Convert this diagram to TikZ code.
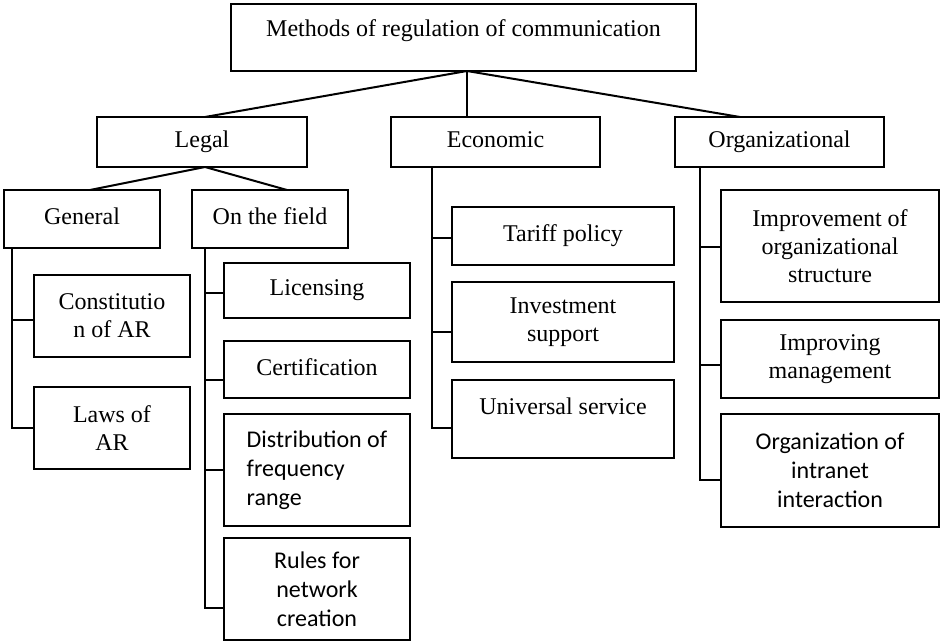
\documentclass[tikz,border=0pt]{standalone}
\usepackage{fontspec}
\setmainfont{Liberation Serif}
\setsansfont{Carlito}

\begin{document}
\begin{tikzpicture}[
                x=0.5pt, y=-0.5pt,
                font=\fontsize{12}{14}\selectfont,
                box/.style={
                        draw, line width=1pt, anchor=north west,
                        align=center, inner sep=2pt, outer sep=0pt
                    },
                dims/.style 2 args={minimum width=#1*0.5pt, minimum height=#2*0.5pt},
                oneline/.style={text depth=0.25em},
                sans/.style={font=\sffamily\fontsize{12}{14.5}\selectfont},
                link/.style={line width=1pt}
                ]
                \useasboundingbox (0,0) rectangle (941,641);

                \node[box, dims={465}{67}, text depth=9.5pt] (methods) at (231,4) {Methods of regulation of communication};

                \node[box, oneline, dims={210}{50}] (legal) at (97,117) {Legal};
                \node[box, oneline, dims={209}{50}] (economic) at (391,117) {Economic};
                \node[box, oneline, dims={209}{50}] (organizational) at (675,117) {Organizational};

                \node[box, oneline, dims={156}{58}] (general) at (4,190) {General};
                \node[box, oneline, dims={156}{58}] (field) at (192,190) {On the field};

                \node[box, dims={156}{82}] (constitution) at (34,275) {Constitutio\\n of AR};
                \node[box, dims={156}{82}] (laws) at (34,387) {Laws of\\AR};

                \node[box, oneline, dims={186}{55}] (licensing) at (224,263) {Licensing};
                \node[box, oneline, dims={186}{57}] (certification) at (224,341) {Certification};
                \node[box, sans, align=left, dims={186}{112}] (frequency) at (224,414) {Distribution of\\frequency\\range};
                \node[box, sans, dims={186}{102}] (rules) at (224,538) {Rules for\\network\\creation};

                \node[box, oneline, dims={222}{58}] (tariff) at (452,207) {Tariff policy};
                \node[box, dims={222}{80}] (investment) at (452,282) {Investment\\support};
                \node[box, dims={222}{78}, text depth=13pt] (universal) at (452,380) {Universal service};

                \node[box, dims={218}{112}] (structure) at (721,190) {Improvement of\\organizational\\structure};
                \node[box, dims={218}{78}] (management) at (721,320) {Improving\\management};
                \node[box, sans, dims={218}{113}] (intranet) at (721,414) {Organization of\\intranet\\interaction};

                % top level
                \coordinate (hub) at ([xshift=1.75pt]methods.south);
                \draw[link] (hub) -- ([xshift=1.5pt]legal.north);
                \draw[link] (hub) -- (hub |- economic.north);
                \draw[link] (hub) -- ([xshift=-19.75pt]organizational.north);

                \draw[link] ([xshift=1.5pt]legal.south) -- ([xshift=4pt]general.north);
                \draw[link] ([xshift=1.5pt]legal.south) -- ([xshift=8.5pt]field.north);

                % trunks with side branches
                \coordinate (gtrunk) at ([xshift=4pt]general.south west);
                \draw[link] (gtrunk) |- (laws.west);
                \draw[link] ([yshift=-2pt]constitution.west) coordinate (b) -- (gtrunk |- b);

                \coordinate (ftrunk) at ([xshift=6.5pt]field.south west);
                \draw[link] (ftrunk) |- ([yshift=-9.5pt]rules.west);
                \foreach \n/\dy in {licensing/-1.25pt, certification/-5.25pt, frequency/0pt}
                    \draw[link] ([yshift=\dy]\n.west) coordinate (b) -- (ftrunk |- b);

                \coordinate (etrunk) at ([xshift=20.5pt]economic.south west);
                \draw[link] (etrunk) |- ([yshift=-4.5pt]universal.west);
                \foreach \n/\dy in {tariff/-1pt, investment/-5pt}
                    \draw[link] ([yshift=\dy]\n.west) coordinate (b) -- (etrunk |- b);

                \coordinate (otrunk) at ([xshift=12.5pt]organizational.south west);
                \draw[link] (otrunk) |- ([yshift=-4.75pt]intranet.west);
                \foreach \n/\dy in {structure/-0.5pt, management/-3pt}
                    \draw[link] ([yshift=\dy]\n.west) coordinate (b) -- (otrunk |- b);
            \end{tikzpicture}
\end{document}
